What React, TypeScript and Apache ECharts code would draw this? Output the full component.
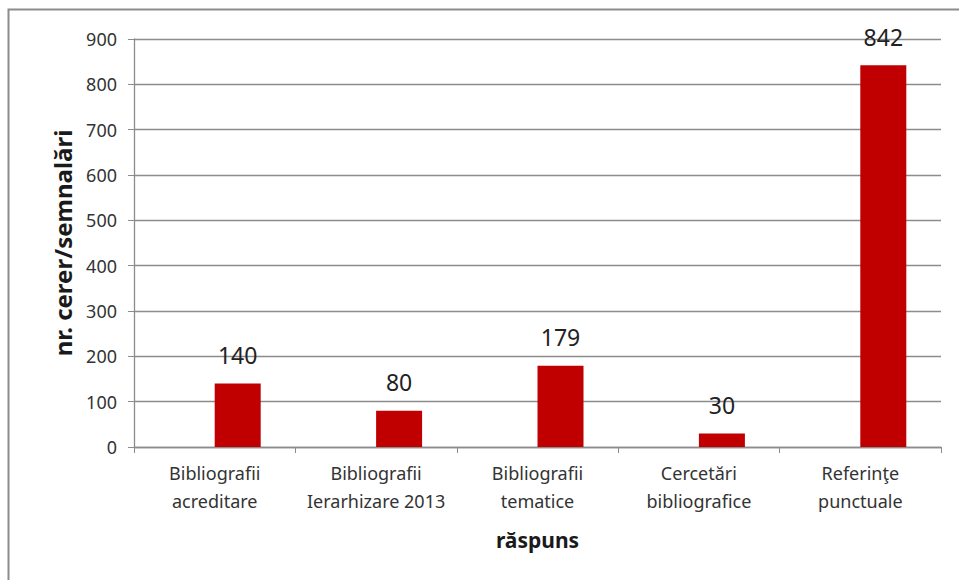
import React, { useEffect, useRef } from "react";
import * as echarts from "echarts";

const categories = [
  "Bibliografii\nacreditare",
  "Bibliografii\nIerarhizare 2013",
  "Bibliografii\ntematice",
  "Cercetări\nbibliografice",
  "Referinţe\npunctuale",
];
const emptySeries = ["-", "-", "-", "-", "-"];
const values = [140, 80, 179, 30, 842];
const yMin = 0;
const yMax = 900;
const yInterval = 100;
const xAxisTitle = "răspuns";
const yAxisTitle = "nr. cerer/semnalări";

export default function App() {
  const ref = useRef<HTMLDivElement>(null);
  useEffect(() => {
    if (!ref.current) return;
    const chart = echarts.init(ref.current, undefined, { renderer: "svg" });
    const font = "'Noto Sans', sans-serif";
    chart.setOption({
      animation: false,
      backgroundColor: "#ffffff",
      textStyle: { fontFamily: font },
      graphic: [
        {
          type: "rect",
          shape: { x: 8.5, y: 9.5, width: 1200, height: 1200 },
          style: { fill: "none", stroke: "#8c8c8c", lineWidth: 2 },
          silent: true,
        },
      ],
      grid: { left: 134, right: 18, top: 39, bottom: 133 },
      xAxis: {
        type: "category",
        data: categories,
        name: xAxisTitle,
        nameLocation: "middle",
        nameGap: 82,
        nameTextStyle: { fontFamily: font, fontSize: 21, fontWeight: "bold", color: "#1a1a1a" },
        axisLine: { lineStyle: { color: "#8c8c8c", width: 1.3 } },
        axisTick: { show: true, length: 6, lineStyle: { color: "#8c8c8c" } },
        axisLabel: {
          fontFamily: font,
          fontSize: 18,
          lineHeight: 28,
          color: "#333333",
          margin: 12,
          interval: 0,
        },
      },
      yAxis: {
        type: "value",
        min: yMin,
        max: yMax,
        interval: yInterval,
        name: yAxisTitle,
        nameLocation: "middle",
        nameGap: 60,
        nameTextStyle: { fontFamily: font, fontSize: 24, fontWeight: "bold", color: "#1a1a1a" },
        axisLine: { show: true, lineStyle: { color: "#8c8c8c", width: 1.3 } },
        axisTick: { show: true, length: 6, lineStyle: { color: "#8c8c8c" } },
        axisLabel: { fontFamily: font, fontSize: 18, color: "#333333", margin: 17 },
        splitLine: { lineStyle: { color: "#8c8c8c", width: 1.3 } },
      },
      series: [
        {
          type: "bar",
          data: emptySeries,
          barWidth: 46,
          barGap: "0%",
          itemStyle: { color: "#4f81bd" },
        },
        {
          type: "bar",
          data: values,
          barWidth: 46,
          barGap: "0%",
          itemStyle: { color: "#C00000" },
          label: {
            show: true,
            position: "top",
            distance: 17,
            fontFamily: font,
            fontSize: 23,
            color: "#222222",
          },
        },
      ],
    });
    return () => chart.dispose();
  }, []);
  return (
    <div
      ref={ref}
      style={{ position: "fixed", left: 0, top: 0, width: 959, height: 580 }}
    />
  );
}
